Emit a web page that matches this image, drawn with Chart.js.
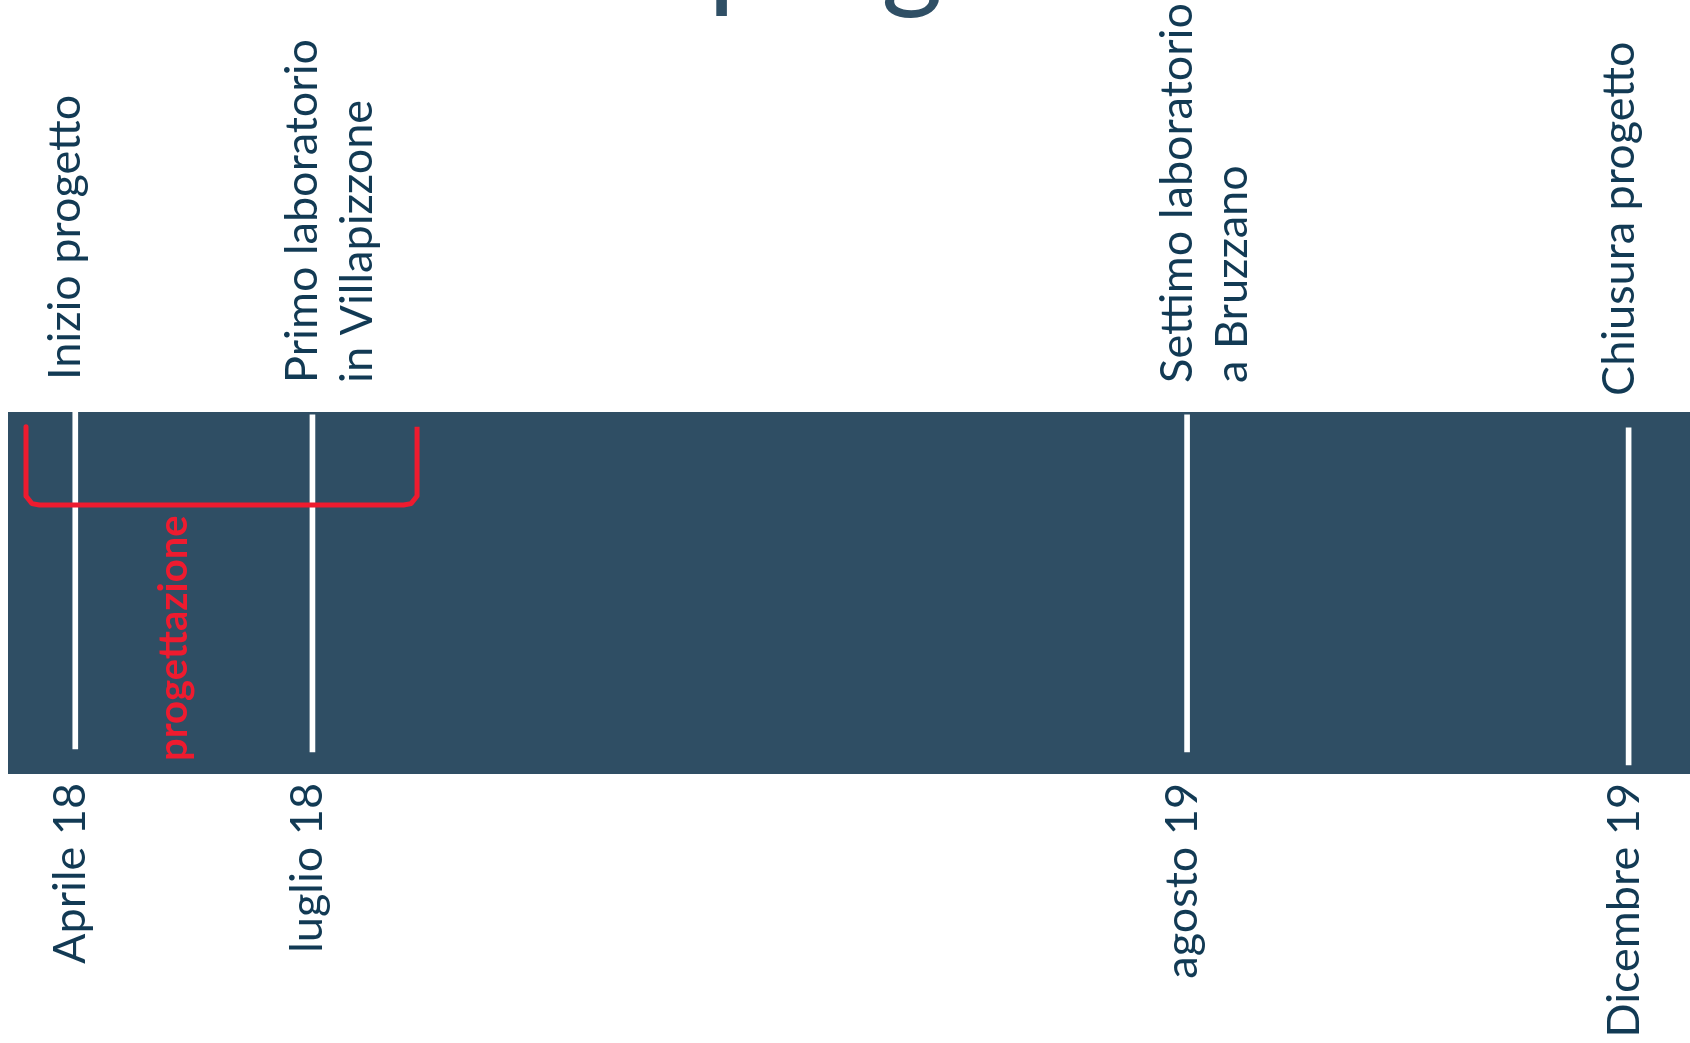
<!DOCTYPE html>
<html>
<head>
<meta charset="utf-8">
<script src="https://cdn.jsdelivr.net/npm/chart.js@4"></script>
<style>
  html, body { margin: 0; padding: 0; background: #fff; }
  #wrap { width: 1690px; height: 1043px; position: relative; }
</style>
</head>
<body>
<div id="wrap"><canvas id="timeline"></canvas></div>
<script>
// milestones along the band (position on a 0-100 track)
const milestonePos = [4.0, 18.1, 70.1, 96.35];
const milestoneDates = ['Aprile 18', 'luglio 18', 'agosto 19', 'Dicembre 19'];
const milestoneEvents = [
    ['Inizio progetto'],
    ['Primo laboratorio', 'in Villapizzone'],
    ['Settimo laboratorio', 'a Bruzzano'],
    ['Chiusura progetto']
];
// vertical extent of each white marker (0 = band bottom, 100 = band top)
const markerTop = [100, 99.2, 99.2, 95.6];
const markerBottom = [6.9, 6.1, 6.1, 2.5];

// phases shown as a red bracket
const phaseNames = ['progettazione'];
const phaseStart = [1.07];
const phaseEnd = [24.32];
const phaseTop = [95.9];
const phaseBottom = [74.3];

const titleText = 'Fasi del progetto';

const bandColor = '#2f4e64';
const textColor = '#123a54';
const red = '#ee1b2f';

const markerData = milestonePos.map((x, i) => ({ x: x, y: [markerBottom[i], markerTop[i]] }));

const bracketData = [];
phaseNames.forEach((name, i) => {
    const s = phaseStart[i], e = phaseEnd[i];
    bracketData.push(
        { x: s, y: phaseTop[i] },
        { x: s, y: phaseBottom[i] + 2.5 },
        { x: s + 0.35, y: phaseBottom[i] + 0.4 },
        { x: s + 0.8, y: phaseBottom[i] },
        { x: e - 0.8, y: phaseBottom[i] },
        { x: e - 0.35, y: phaseBottom[i] + 0.4 },
        { x: e, y: phaseBottom[i] + 2.5 },
        { x: e, y: phaseTop[i] }
    );
});

function drawRotated(ctx, text, x, y, align) {
    ctx.save();
    ctx.translate(x, y);
    ctx.rotate(-Math.PI / 2);
    ctx.textAlign = align;
    ctx.textBaseline = 'alphabetic';
    ctx.fillText(text, 0, 0);
    ctx.restore();
}

const timelinePlugin = {
    id: 'timeline',
    beforeDraw(chart) {
        const { ctx, chartArea } = chart;
        ctx.save();
        ctx.fillStyle = bandColor;
        ctx.fillRect(chartArea.left, chartArea.top, chartArea.right - chartArea.left, chartArea.bottom - chartArea.top);
        ctx.restore();
    },
    afterDraw(chart) {
        const { ctx, chartArea } = chart;
        const xs = chart.scales.x, ys = chart.scales.y;

        // title, mostly above the visible area (only descenders show)
        ctx.save();
        ctx.fillStyle = '#2f4f65';
        ctx.font = '118px Lato';
        ctx.textBaseline = 'alphabetic';
        const lead = ctx.measureText('Fasi del ').width;
        ctx.fillText(titleText, 708 - lead, -4);
        ctx.restore();

        ctx.save();
        ctx.fillStyle = textColor;
        ctx.font = '45px Lato';
        milestonePos.forEach((p, i) => {
            const px = xs.getPixelForValue(p);
            const bottom = ys.getPixelForValue(markerTop[i]) - 32;
            milestoneEvents[i].forEach((line, j) => {
                drawRotated(ctx, line, px + 5 + j * 55, bottom, 'left');
            });
            drawRotated(ctx, milestoneDates[i], px + 10, chartArea.bottom + 9, 'right');
        });
        ctx.restore();

        ctx.save();
        ctx.fillStyle = red;
        ctx.font = 'bold 40px Lato';
        phaseNames.forEach((name, i) => {
            const px = xs.getPixelForValue(phaseStart[i]);
            drawRotated(ctx, name, px + 161, 761, 'left');
        });
        ctx.restore();
    }
};

new Chart(document.getElementById('timeline'), {
    type: 'bar',
    data: {
        datasets: [{
            type: 'line',
            data: bracketData,
            borderColor: red,
            borderWidth: 5,
            borderJoinStyle: 'round',
            pointRadius: 0,
            tension: 0,
            order: 0
        }, {
            type: 'bar',
            data: markerData,
            backgroundColor: '#ffffff',
            barThickness: 5,
            borderSkipped: false,
            order: 1
        }]
    },
    options: {
        responsive: true,
        maintainAspectRatio: false,
        animation: false,
        layout: { padding: { left: 8, right: 0, top: 412, bottom: 269 } },
        plugins: { legend: { display: false }, tooltip: { enabled: false } },
        scales: {
            x: { type: 'linear', min: 0, max: 100, offset: false, display: false },
            y: { min: 0, max: 100, display: false }
        }
    },
    plugins: [timelinePlugin]
});
</script>
</body>
</html>
